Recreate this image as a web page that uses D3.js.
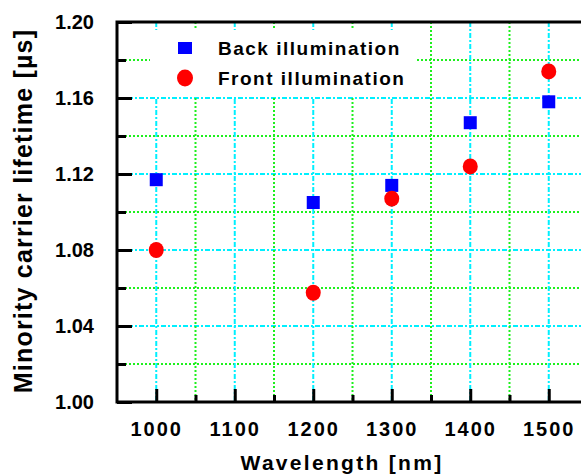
<!DOCTYPE html>
<html lang="en">
<head>
    <meta charset="UTF-8">
    <title>Minority carrier lifetime</title>
    <script src="https://d3js.org/d3.v7.min.js"></script>
    <style>
        body {
            margin: 0;
            background: #fff;
            font-family: Arial, "Liberation Sans", sans-serif;
        }
        svg text {
            font-weight: bold;
            fill: #000;
        }
    </style>
</head>
<body>
<div id="chart"></div>
<script>
    // data
    const wavelengths = [1000, 1200, 1300, 1400, 1500];
    const backValues = [1.117, 1.105, 1.114, 1.147, 1.158];
    const frontValues = [1.080, 1.0575, 1.107, 1.124, 1.174];
    const seriesNames = ["Back illumination", "Front illumination"];

    const xMajorTicks = [1000, 1100, 1200, 1300, 1400, 1500];
    const xMinorTicks = [1050, 1150, 1250, 1350, 1450];
    const yMajorTicks = [1.00, 1.04, 1.08, 1.12, 1.16, 1.20];
    const yMinorTicks = [1.02, 1.06, 1.10, 1.14, 1.18];

    var width = 581,
        height = 474,
        margin = {top: 22, left: 117, bottom: 72},
        plotBottom = height - margin.bottom;

    var svg = d3.select("#chart")
        .append("svg")
        .attr("width", width)
        .attr("height", height);

    // x runs past the right edge of the picture, the right frame is cut off
    var x = d3.scaleLinear()
        .domain([950, 1550])
        .range([margin.left, margin.left + 600 * 0.785]);

    var y = d3.scaleLinear()
        .domain([1.00, 1.20])
        .range([plotBottom, margin.top]);

    var right = x.range()[1];

    // grid lines
    var grid = svg.append("g");
    function hGrid(vals, cls) {
        grid.selectAll("line." + cls)
            .data(vals.filter(function(d) { return d > 1.001 && d < 1.199; }))
            .enter().append("line")
            .attr("class", cls)
            .attr("x1", margin.left).attr("x2", right)
            .attr("y1", function(d) { return y(d); })
            .attr("y2", function(d) { return y(d); });
    }
    function vGrid(vals, cls) {
        grid.selectAll("line.v" + cls)
            .data(vals)
            .enter().append("line")
            .attr("class", "v" + cls)
            .attr("y1", margin.top).attr("y2", plotBottom)
            .attr("x1", function(d) { return x(d); })
            .attr("x2", function(d) { return x(d); });
    }
    hGrid(yMajorTicks, "major");
    hGrid(yMinorTicks, "minor");
    vGrid(xMajorTicks, "major");
    vGrid(xMinorTicks, "minor");
    grid.selectAll("line.major, line.vmajor")
        .attr("stroke", "#00f0ff")
        .attr("stroke-width", 2)
        .attr("stroke-dasharray", "5,2,2,2");
    grid.selectAll("line.minor, line.vminor")
        .attr("stroke", "#1ef01e")
        .attr("stroke-width", 2)
        .attr("stroke-dasharray", "2,2");

    // legend box hides the grid behind it
    svg.append("rect")
        .attr("x", 150).attr("y", 30)
        .attr("width", 266).attr("height", 67)
        .attr("fill", "#fff");

    // axes, ticks inward
    var yAxis = svg.append("g")
        .attr("transform", "translate(" + margin.left + ",0)")
        .call(d3.axisLeft(y).tickValues(yMajorTicks).tickSize(-15)
            .tickPadding(23).tickFormat(d3.format(".2f")));
    yAxis.append("g")
        .call(d3.axisLeft(y).tickValues(yMinorTicks).tickSize(-9).tickFormat(""));

    var xAxis = svg.append("g")
        .attr("transform", "translate(0," + plotBottom + ")")
        .call(d3.axisBottom(x).tickValues(xMajorTicks).tickSize(-13)
            .tickPadding(20).tickFormat(d3.format("d")));
    xAxis.append("g")
        .call(d3.axisBottom(x).tickValues(xMinorTicks).tickSize(-7).tickFormat(""));

    svg.selectAll(".domain").remove();
    svg.selectAll(".tick line").attr("stroke", "#000").attr("stroke-width", 3);
    yAxis.selectAll("text").style("font-size", "20px").style("font-family", "Arial, 'Liberation Sans', sans-serif");
    xAxis.selectAll("text").style("font-size", "20px").style("letter-spacing", "2px")
        .style("font-family", "Arial, 'Liberation Sans', sans-serif");

    // frame
    svg.append("path")
        .attr("d", "M" + width + "," + margin.top + "H" + margin.left + "V" + plotBottom + "H" + width)
        .attr("fill", "none")
        .attr("stroke", "#000")
        .attr("stroke-width", 3);

    // markers
    svg.append("g")
        .selectAll("rect")
        .data(wavelengths)
        .enter().append("rect")
        .attr("x", function(d) { return x(d) - 6.5; })
        .attr("y", function(d, i) { return y(backValues[i]) - 6.5; })
        .attr("width", 13).attr("height", 13)
        .attr("fill", "#0000ff");

    svg.append("g")
        .selectAll("ellipse")
        .data(wavelengths)
        .enter().append("ellipse")
        .attr("cx", function(d) { return x(d); })
        .attr("cy", function(d, i) { return y(frontValues[i]); })
        .attr("rx", 7.5).attr("ry", 8)
        .attr("fill", "#ff0000");

    // legend
    var legend = svg.append("g");
    legend.append("rect")
        .attr("x", 178).attr("y", 42)
        .attr("width", 14).attr("height", 12)
        .attr("fill", "#0000ff");
    legend.append("ellipse")
        .attr("cx", 185).attr("cy", 78)
        .attr("rx", 8).attr("ry", 8.5)
        .attr("fill", "#ff0000");
    legend.selectAll("text")
        .data(seriesNames)
        .enter().append("text")
        .attr("x", 218)
        .attr("y", function(d, i) { return 55 + i * 30; })
        .style("font-size", "19px")
        .style("letter-spacing", "1.5px")
        .text(function(d) { return d; });

    // axis titles
    svg.append("text")
        .attr("x", 342)
        .attr("y", 470)
        .attr("text-anchor", "middle")
        .style("font-size", "21px")
        .style("letter-spacing", "2.3px")
        .text("Wavelength [nm]");

    svg.append("text")
        .attr("transform", "translate(32,211) rotate(-90)")
        .attr("text-anchor", "middle")
        .style("font-size", "25px")
        .style("letter-spacing", "1.2px")
        .text("Minority carrier lifetime [µs]");
</script>
</body>
</html>
